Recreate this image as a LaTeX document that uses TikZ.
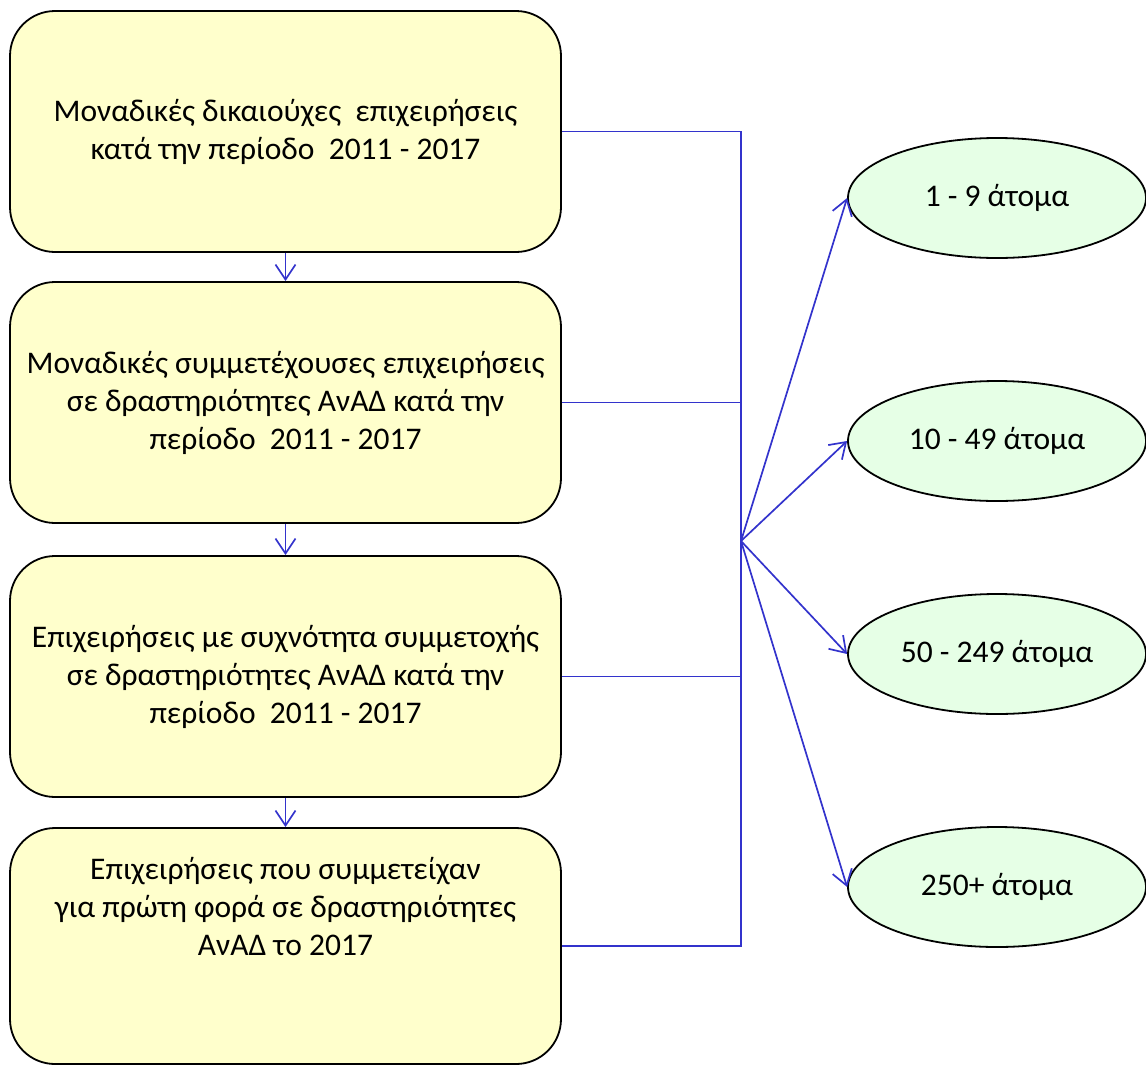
\documentclass[tikz,border=0pt]{standalone}
\usepackage{fontspec}
\setmainfont{Carlito}
\usetikzlibrary{arrows.meta,shapes.geometric}
\definecolor{boxfill}{HTML}{FFFFCC}
\definecolor{ellfill}{HTML}{E6FFE6}
\definecolor{conncol}{HTML}{3333CC}
\begin{document}
\begin{tikzpicture}[x=1pt,y=-1pt,
  box/.style={draw=black,line width=1.8pt,fill=boxfill,rounded corners=45pt,
    minimum width=551pt,minimum height=241pt,inner sep=0pt,align=center,
    font=\fontsize{31.5}{38}\selectfont},
  ell/.style={draw=black,line width=1.8pt,fill=ellfill,ellipse,
    minimum width=298pt,minimum height=120pt,inner sep=0pt,
    font=\fontsize{31.5}{38}\selectfont},
  txt/.style={inner sep=0pt,align=center,font=\fontsize{31.5}{38}\selectfont},
  conn/.style={draw=conncol,line width=1.7pt},
  arr/.style={conn,-{Straight Barb[length=15pt,width=20pt,line width=1.7pt]}}]
\useasboundingbox (0,0) rectangle (1146,1066);
\node[box] (b1) at (285.5,131.5) {Μοναδικές δικαιούχες\ \ επιχειρήσεις\\κατά την περίοδο\ \ 2011 - 2017};
\node[box] (b2) at (285.5,402.5) {Μοναδικές συμμετέχουσες επιχειρήσεις\\σε δραστηριότητες ΑνΑΔ κατά την\\περίοδο\ \ 2011 - 2017};
\node[box] (b3) at (285.5,676.5) {Επιχειρήσεις με συχνότητα συμμετοχής\\σε δραστηριότητες ΑνΑΔ κατά την\\περίοδο\ \ 2011 - 2017};
\node[box,minimum height=236pt] (b4) at (285.5,946) {};
\node[txt] (b4t) at (285.5,907) {Επιχειρήσεις που συμμετείχαν\\για πρώτη φορά σε δραστηριότητες\\ΑνΑΔ το 2017};
\node[ell] (e1) at (997,198) {1 - 9 άτομα};
\node[ell] (e2) at (997,441) {10 - 49 άτομα};
\node[ell] (e3) at (997,654) {50 - 249 άτομα};
\node[ell] (e4) at (997,887) {250+ άτομα};
\coordinate (hub) at (741,541);
\draw[arr] (b1.south) -- (b2.north);
\draw[arr] (b2.south) -- (b3.north);
\draw[arr] (b3.south) -- (b4.north);
\draw[conn] (b1.east) -| (hub);
\draw[conn] (b4.east) -| (hub);
\draw[conn] (b2.east) -- (b2.east -| hub);
\draw[conn] (b3.east) -- (b3.east -| hub);
\draw[arr] (hub) -- (e1.west);
\draw[arr] (hub) -- (e2.west);
\draw[arr] (hub) -- (e3.west);
\draw[arr] (hub) -- (e4.west);
\end{tikzpicture}
\end{document}
